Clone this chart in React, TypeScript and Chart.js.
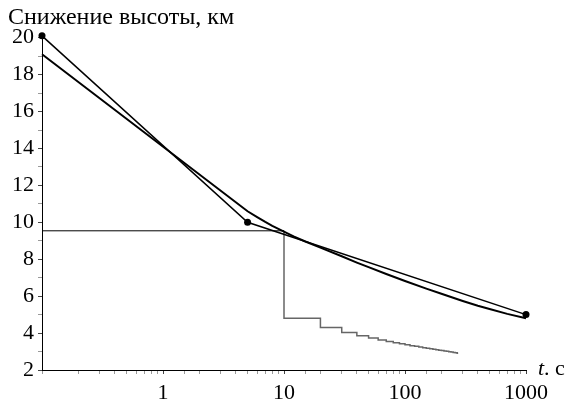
import React, { useEffect, useRef } from "react";
import { Chart, registerables } from "chart.js";

Chart.register(...registerables);

// Dotted polyline (markers)
const dotT = [0.1, 5, 1000];
const dotH = [20.1, 10, 5];

// Fitted curve
const fitT = [0.1, 5, 6, 7, 8, 10, 12, 15, 20, 30, 40, 50, 70, 100, 150, 200, 300, 400, 500, 700, 1000];
const fitH = [19.1, 10.6, 10.28, 10.02, 9.81, 9.5, 9.24, 8.96, 8.63, 8.16, 7.82, 7.57, 7.2, 6.82, 6.41, 6.13, 5.74, 5.48, 5.3, 5.04, 4.8];

// Horizontal level line
const levelT = [0.1, 10];
const levelH = [9.54, 9.54];

// Staircase
const stairT = [10, 10, 20, 30, 40, 50, 60, 70, 80, 90, 100, 110, 120, 130, 140, 150, 160, 170, 180, 190, 200, 210, 220, 230, 240, 250, 260, 270, 275];
const stairH = [9.54, 4.8, 4.3, 4.03, 3.86, 3.74, 3.63, 3.55, 3.48, 3.42, 3.37, 3.32, 3.28, 3.24, 3.21, 3.18, 3.15, 3.12, 3.1, 3.07, 3.05, 3.03, 3.01, 2.99, 2.97, 2.95, 2.93, 2.91, 2.91];

const xLabels = [1, 10, 100, 1000];
const yLabels = [2, 4, 6, 8, 10, 12, 14, 16, 18, 20];
const yTickValues = [2, 3, 4, 5, 6, 7, 8, 9, 10, 11, 12, 13, 14, 15, 16, 17, 18, 19, 20];

const titleText = "Снижение высоты, км";
const xTitleItalic = "t";
const xTitleRest = ". c";

const FONT = "'Liberation Serif', 'Times New Roman', serif";

const zip = (xs: number[], ys: number[]) => xs.map((x, i) => ({ x, y: ys[i] }));

const isMajorX = (v: number) => xLabels.some((m) => Math.abs(v - m) < 1e-6 * m);

export default function App() {
  const ref = useRef<HTMLCanvasElement | null>(null);

  useEffect(() => {
    document.body.style.margin = "0";
    const canvas = ref.current;
    if (!canvas) return;

    const textPlugin = {
      id: "texts",
      afterDraw(chart: any) {
        const c = chart.ctx;
        const a = chart.chartArea;
        c.save();
        c.fillStyle = "#000";
        c.textBaseline = "alphabetic";
        c.textAlign = "left";
        c.font = `24px ${FONT}`;
        c.fillText(titleText, a.left - 34, 24);
        c.font = `italic 22px ${FONT}`;
        const x0 = a.right + 12;
        const y0 = a.bottom + 5;
        c.fillText(xTitleItalic, x0, y0);
        const w = c.measureText(xTitleItalic).width;
        c.font = `22px ${FONT}`;
        c.fillText(xTitleRest, x0 + w, y0);
        c.restore();
      },
    };

    const chart = new Chart(canvas, {
      type: "line",
      data: {
        datasets: [
          {
            data: zip(dotT, dotH),
            borderColor: "#000",
            backgroundColor: "#000",
            borderWidth: 1.5,
            pointRadius: 3.5,
            pointBackgroundColor: "#000",
            pointBorderWidth: 0,
            tension: 0,
            clip: false,
          },
          {
            data: zip(fitT, fitH),
            borderColor: "#000",
            borderWidth: 2,
            pointRadius: 0,
            tension: 0,
            clip: false,
          },
          {
            data: zip(levelT, levelH),
            borderColor: "#000",
            borderWidth: 1,
            pointRadius: 0,
          },
          {
            data: zip(stairT, stairH),
            borderColor: "#666",
            borderWidth: 1.5,
            pointRadius: 0,
            stepped: "before",
          },
        ],
      },
      options: {
        responsive: false,
        animation: false,
        events: [],
        layout: { padding: { top: 34, right: 45, left: 0, bottom: 0 } },
        plugins: { legend: { display: false }, tooltip: { enabled: false }, title: { display: false } },
        scales: {
          x: {
            type: "logarithmic",
            min: 0.1,
            max: 1000,
            afterFit(scale: any) {
              scale.height = 35;
            },
            border: { display: true, color: "#000", width: 1 },
            grid: {
              display: true,
              drawOnChartArea: false,
              drawTicks: true,
              tickLength: 4,
              color: (ctx: any) => (ctx.tick && isMajorX(ctx.tick.value) ? "#444" : "#999"),
            },
            ticks: {
              autoSkip: false,
              maxRotation: 0,
              padding: 6,
              color: "#000",
              font: { family: FONT, size: 22 },
              callback: (v: any) => (isMajorX(Number(v)) ? String(Math.round(Number(v))) : ""),
            },
          },
          y: {
            type: "linear",
            min: 2,
            max: 20.2,
            afterFit(scale: any) {
              scale.width = 42;
            },
            afterBuildTicks(scale: any) {
              scale.ticks = yTickValues.map((value) => ({ value }));
            },
            border: { display: true, color: "#000", width: 1 },
            grid: {
              display: true,
              drawOnChartArea: false,
              drawTicks: true,
              tickLength: 4,
              color: (ctx: any) => (ctx.tick && yLabels.includes(Math.round(ctx.tick.value)) ? "#444" : "#999"),
            },
            ticks: {
              autoSkip: false,
              padding: 4,
              color: "#000",
              font: { family: FONT, size: 22 },
              callback: (v: any) => (yLabels.includes(Number(v)) ? String(v) : ""),
            },
          },
        },
      },
      plugins: [textPlugin],
    } as any);

    return () => chart.destroy();
  }, []);

  return (
    <div style={{ width: 571, height: 405 }}>
      <canvas ref={ref} width={571} height={405} style={{ display: "block" }} />
    </div>
  );
}
